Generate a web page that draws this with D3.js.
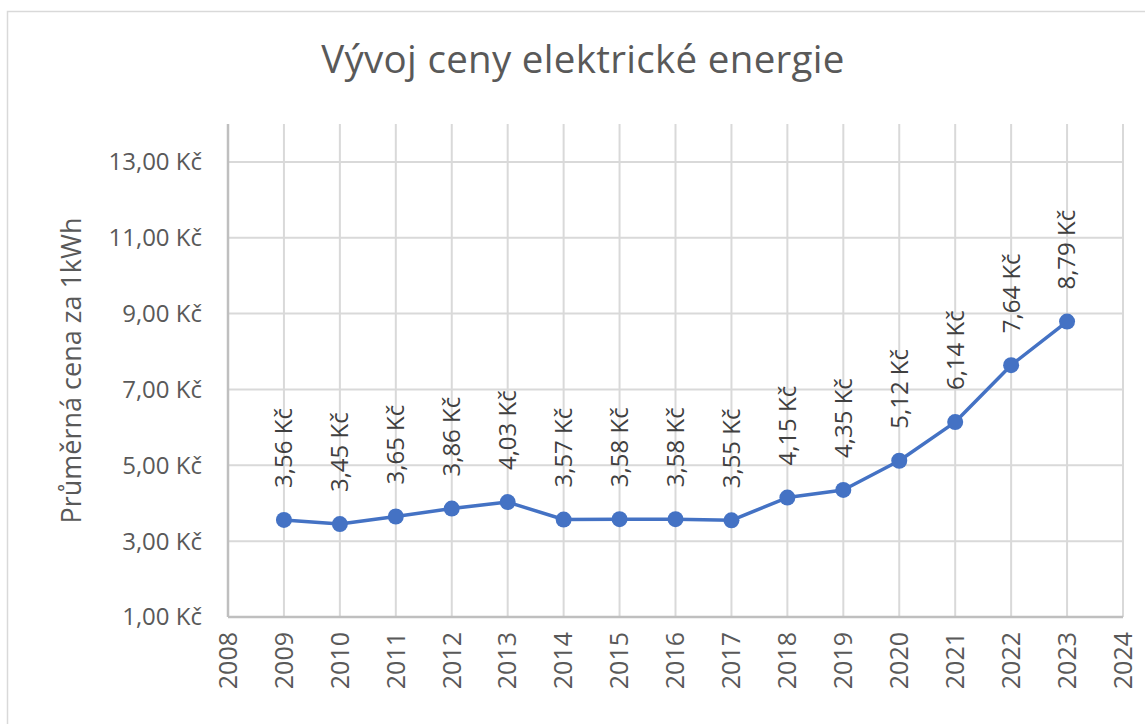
<!DOCTYPE html>
<html>
<head>
<meta charset="utf-8">
<script src="https://cdn.jsdelivr.net/npm/d3@7"></script>
<style>
  body { margin: 0; background: #fff; }
  text { font-family: "Open Sans", "Noto Sans", sans-serif; }
</style>
</head>
<body>
<svg id="chart" width="1145" height="724"></svg>
<script>
// Data
const years = [2009, 2010, 2011, 2012, 2013, 2014, 2015, 2016, 2017, 2018, 2019, 2020, 2021, 2022, 2023];
const prices = [3.56, 3.45, 3.65, 3.86, 4.03, 3.57, 3.58, 3.58, 3.55, 4.15, 4.35, 5.12, 6.14, 7.64, 8.79];
const xTicks = d3.range(2008, 2025);
const yTicks = [1, 3, 5, 7, 9, 11, 13];

const svg = d3.select("#chart");
const width = 1145, height = 724;
const m = { left: 228, right: 22, top: 124, bottom: 107 };

const fmt = v => d3.format(".2f")(v).replace(".", ",") + " Kč";

// chart border
svg.append("rect")
    .attr("x", 7.5).attr("y", 11.5)
    .attr("width", width + 20).attr("height", height + 20)
    .attr("fill", "none")
    .attr("stroke", "#d9d9d9")
    .attr("stroke-width", 1.5);

const x = d3.scaleLinear()
    .domain([2008, 2024])
    .range([m.left, width - m.right]);
const y = d3.scaleLinear()
    .domain([1, 14])
    .range([height - m.bottom, m.top]);

// Grid
const grid = svg.append("g").attr("stroke", "#d9d9d9").attr("stroke-width", 2);
grid.selectAll("line.v")
    .data(xTicks.slice(1))
    .join("line")
        .attr("class", "v")
        .attr("x1", d => x(d)).attr("x2", d => x(d))
        .attr("y1", y(14)).attr("y2", y(1));
grid.selectAll("line.h")
    .data(yTicks.slice(1))
    .join("line")
        .attr("class", "h")
        .attr("x1", x(2008)).attr("x2", x(2024))
        .attr("y1", d => y(d)).attr("y2", d => y(d));

// Axes lines
svg.append("line")
    .attr("x1", x(2008)).attr("x2", x(2008))
    .attr("y1", y(14)).attr("y2", y(1))
    .attr("stroke", "#bfbfbf").attr("stroke-width", 2.5);
svg.append("line")
    .attr("x1", x(2008)).attr("x2", x(2024))
    .attr("y1", y(1)).attr("y2", y(1))
    .attr("stroke", "#bfbfbf").attr("stroke-width", 2.5);

// Y tick labels
svg.append("g")
    .selectAll("text")
    .data(yTicks)
    .join("text")
        .attr("x", x(2008) - 26)
        .attr("y", d => y(d))
        .attr("dy", "0.35em")
        .attr("text-anchor", "end")
        .attr("fill", "#595959")
        .style("font-size", "24px")
        .text(fmt);

// X tick labels (rotated)
svg.append("g")
    .selectAll("text")
    .data(xTicks)
    .join("text")
        .attr("transform", d => `translate(${x(d)},${y(1) + 15}) rotate(-90)`)
        .attr("dy", "0.35em")
        .attr("text-anchor", "end")
        .attr("fill", "#595959")
        .style("font-size", "25px")
        .text(d => d);

// Title
svg.append("text")
    .attr("x", 583)
    .attr("y", 73)
    .attr("text-anchor", "middle")
    .attr("fill", "#595959")
    .style("font-size", "38.5px")
    .style("letter-spacing", "0.3px")
    .text("Vývoj ceny elektrické energie");

// Y axis title
svg.append("text")
    .attr("transform", `translate(72,${(y(1) + y(14)) / 2}) rotate(-90)`)
    .attr("dy", "0.35em")
    .attr("text-anchor", "middle")
    .attr("fill", "#595959")
    .style("font-size", "27px")
    .text("Průměrná cena za 1kWh");

// Line
const pts = years.map((yr, i) => ({ yr, v: prices[i] }));
svg.append("path")
    .datum(pts)
    .attr("fill", "none")
    .attr("stroke", "#4472c4")
    .attr("stroke-width", 3.5)
    .attr("stroke-linejoin", "round")
    .attr("d", d3.line().x(d => x(d.yr)).y(d => y(d.v)));

svg.append("g")
    .selectAll("circle")
    .data(pts)
    .join("circle")
        .attr("cx", d => x(d.yr))
        .attr("cy", d => y(d.v))
        .attr("r", 8)
        .attr("fill", "#4472c4");

// Data labels
svg.append("g")
    .selectAll("text")
    .data(pts)
    .join("text")
        .attr("transform", d => `translate(${x(d.yr)},${y(d.v) - 32}) rotate(-90)`)
        .attr("dy", "0.35em")
        .attr("text-anchor", "start")
        .attr("fill", "#404040")
        .style("font-size", "24px")
        .text(d => fmt(d.v));
</script>
</body>
</html>
